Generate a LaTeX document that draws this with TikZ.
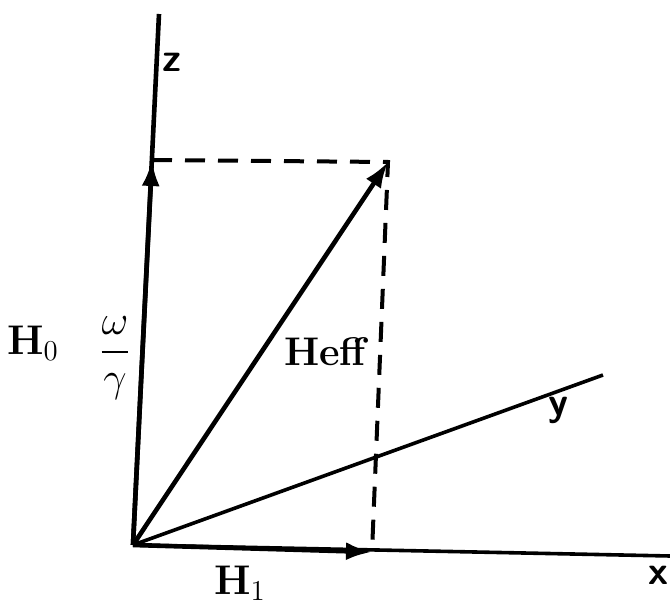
\documentclass[tikz,border=0pt]{standalone}
\usepackage{amsmath}
\usepackage{tikz}
\usetikzlibrary{arrows.meta,positioning}

\begin{document}
\begin{tikzpicture}[
    x=0.5pt, y=-0.5pt,
    >={Latex[length=13pt,width=9pt]},
    every node/.style={font=\fontsize{20}{24}\selectfont\bfseries},
    axis/.style={line width=1.8pt},
    vec/.style={line width=2.3pt, ->},
    proj/.style={line width=2pt, dash pattern=on 10pt off 6.5pt},
    axlabel/.style={font=\fontsize{20}{24}\selectfont\sffamily\bfseries}
    ]
    \useasboundingbox (0,0) rectangle (670,609);
    % Axes
    \coordinate (O) at (133,545);
    \coordinate (ztop) at (159,14);
    \coordinate (xend) at (670,556);
    \coordinate (yend) at (603,375);
    \draw[axis, line width=2.3pt] (O) -- (ztop);
    \draw[axis] (O) -- (xend);
    \draw[axis] (O) -- (yend);
    \node[axlabel] (zlab) at (172,62) {z};
    \node[axlabel] (ylab) at (558,410) {y};
    \node[axlabel] (xlab) at (658,575) {x};
    % Field vectors
    \coordinate (h0) at (152,160);
    \coordinate (h1) at (372,552);
    \coordinate (heff) at (388,162);
    \draw[vec] (O) -- (h0);
    \draw[vec] (O) -- (h1);
    \draw[vec] (O) -- (heff);
    % Projections
    \draw[proj] (h0) -- (heff) -- (h1);
    % Labels
    \node (h0lab) at (33,343) {$\mathbf{H}_0$};
    \node (wlab) at (115,358) {$\dfrac{\omega}{\gamma}$};
    \node (hefflab) at (325,352) {Heff};
    \node (h1lab) at (240,583) {$\mathbf{H}_1$};
\end{tikzpicture}
\end{document}
